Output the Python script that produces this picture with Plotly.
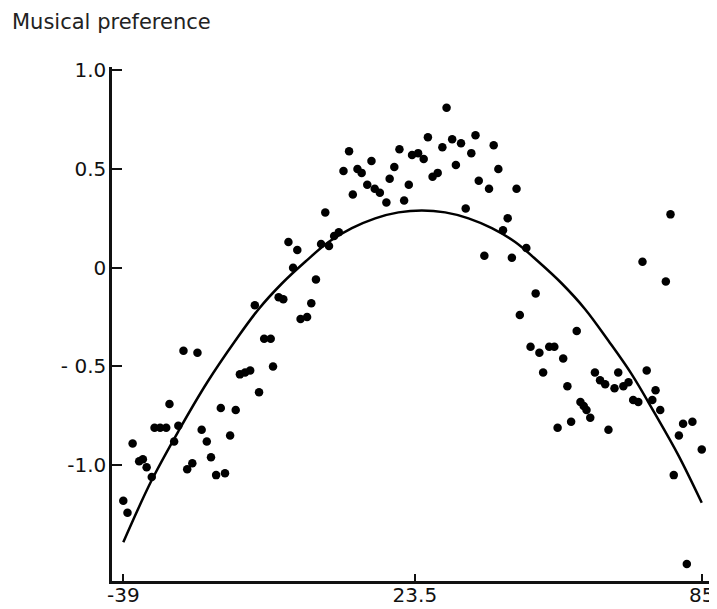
import plotly.graph_objects as go

# Scatter data
x_vals = [-39.0, -38.1, -37.0, -35.6, -34.8, -34.0, -32.9, -32.3, -31.1, -29.8,
          -29.1, -28.1, -27.2, -26.1, -25.3, -24.2, -23.1, -22.2, -21.1, -20.2,
          -19.1, -18.1, -17.2, -16.1, -14.9, -14.0, -12.9, -11.8, -10.8, -9.9,
          -8.8, -7.4, -6.9, -5.7, -4.7, -3.6, -2.6, -1.7, -1.0, 0.4,
          1.3, 2.3, 3.4, 4.3, 5.1, 6.2, 7.2, 8.2, 9.4, 10.2,
          11.2, 12.1, 13.3, 14.2, 14.9, 16.0, 17.4, 18.1, 19.1, 20.2,
          21.2, 22.2, 22.9, 24.2, 25.4, 26.3, 27.3, 28.4, 29.4, 30.3,
          31.5, 32.3, 33.4, 34.4, 35.6, 36.5, 37.2, 38.4, 39.4, 40.4,
          41.4, 42.4, 43.4, 44.3, 45.3, 46.0, 47.4, 48.3, 49.4, 50.2,
          51.0, 52.3, 53.4, 54.1, 55.3, 56.2, 57.0, 58.2, 59.0, 59.7,
          60.3, 61.1, 62.1, 63.2, 64.3, 65.0, 66.3, 67.1, 68.2, 69.3,
          70.3, 71.4, 72.3, 73.2, 74.4, 75.1, 76.1, 77.3, 78.3, 79.0,
          80.1, 81.0, 81.8, 83.0, 85.0]
y_vals = [-1.18, -1.24, -0.89, -0.98, -0.97, -1.01, -1.06, -0.81, -0.81, -0.81,
          -0.69, -0.88, -0.80, -0.42, -1.02, -0.99, -0.43, -0.82, -0.88, -0.96,
          -1.05, -0.71, -1.04, -0.85, -0.72, -0.54, -0.53, -0.52, -0.19, -0.63,
          -0.36, -0.36, -0.50, -0.15, -0.16, 0.13, 0.00, 0.09, -0.26, -0.25,
          -0.18, -0.06, 0.12, 0.28, 0.11, 0.16, 0.18, 0.49, 0.59, 0.37,
          0.50, 0.48, 0.42, 0.54, 0.40, 0.38, 0.33, 0.45, 0.51, 0.60,
          0.34, 0.42, 0.57, 0.58, 0.55, 0.66, 0.46, 0.48, 0.61, 0.81,
          0.65, 0.52, 0.63, 0.30, 0.58, 0.67, 0.44, 0.06, 0.40, 0.62,
          0.50, 0.19, 0.25, 0.05, 0.40, -0.24, 0.10, -0.40, -0.13, -0.43,
          -0.53, -0.40, -0.40, -0.81, -0.46, -0.60, -0.78, -0.32, -0.68, -0.70,
          -0.72, -0.76, -0.53, -0.57, -0.59, -0.82, -0.61, -0.53, -0.60, -0.58,
          -0.67, -0.68, 0.03, -0.52, -0.67, -0.62, -0.72, -0.07, 0.27, -1.05,
          -0.85, -0.79, -1.50, -0.78, -0.92]

# Fitted curve
curve_x = [-39, -33, -27, -21, -15, -10, -5, 0, 5, 10, 15, 20, 25, 30, 35,
           40, 45, 50, 55, 60, 65, 70, 75, 80, 85]
curve_y = [-1.39, -1.08, -0.82, -0.58, -0.37, -0.21, -0.08, 0.03, 0.13, 0.20,
           0.25, 0.28, 0.29, 0.28, 0.25, 0.20, 0.13, 0.03, -0.08, -0.21,
           -0.37, -0.54, -0.74, -0.95, -1.19]

x_tickvals = [-39, 23.5, 85]
x_ticktext = ["-39", "23.5", "85"]
y_tickvals = [1.0, 0.5, 0, -0.5, -1.0]
y_ticktext = ["1.0", "0.5", "0", "- 0.5", "-1.0"]

fig = go.Figure()
fig.add_trace(go.Scatter(x=curve_x, y=curve_y, mode="lines",
                         line=dict(color="black", width=2.5, shape="spline", smoothing=1.0),
                         hoverinfo="skip", showlegend=False))
fig.add_trace(go.Scatter(x=x_vals, y=y_vals, mode="markers",
                         marker=dict(color="black", size=8.5, line=dict(width=0)),
                         showlegend=False))

tick_font = "DejaVu Sans, Verdana, sans-serif"
# The page body adds an 8px offset, so the figure is sized to the remaining window
fig.update_layout(
    width=709, height=601,
    margin=dict(l=104, r=0, t=59, b=28),
    paper_bgcolor="white", plot_bgcolor="white",
    font=dict(family=tick_font, color="#111111"),
    xaxis=dict(range=[-41.42, 88.27], showgrid=False, zeroline=False, automargin=False,
               showline=True, linecolor="#111111", linewidth=2.5,
               ticks="inside", ticklen=7, tickwidth=2, tickcolor="#111111",
               tickvals=x_tickvals, ticktext=x_ticktext, ticklabelstandoff=-6,
               tickfont=dict(size=20, family=tick_font, color="#111111")),
    yaxis=dict(range=[-1.586, 1.016], showgrid=False, zeroline=False, automargin=False,
               showline=True, linecolor="#111111", linewidth=2.5,
               ticks="inside", ticklen=10, tickwidth=2, tickcolor="#111111",
               tickvals=y_tickvals, ticktext=y_ticktext, ticklabelstandoff=-1,
               tickfont=dict(size=20, family=tick_font, color="#111111")),
    annotations=[dict(text="Musical preference", xref="paper", yref="paper",
                      x=-0.1686, y=1.0875, xanchor="left", yanchor="middle",
                      showarrow=False,
                      font=dict(size=21, family=tick_font, color="#222222"))],
)

fig.write_html("out.html")
